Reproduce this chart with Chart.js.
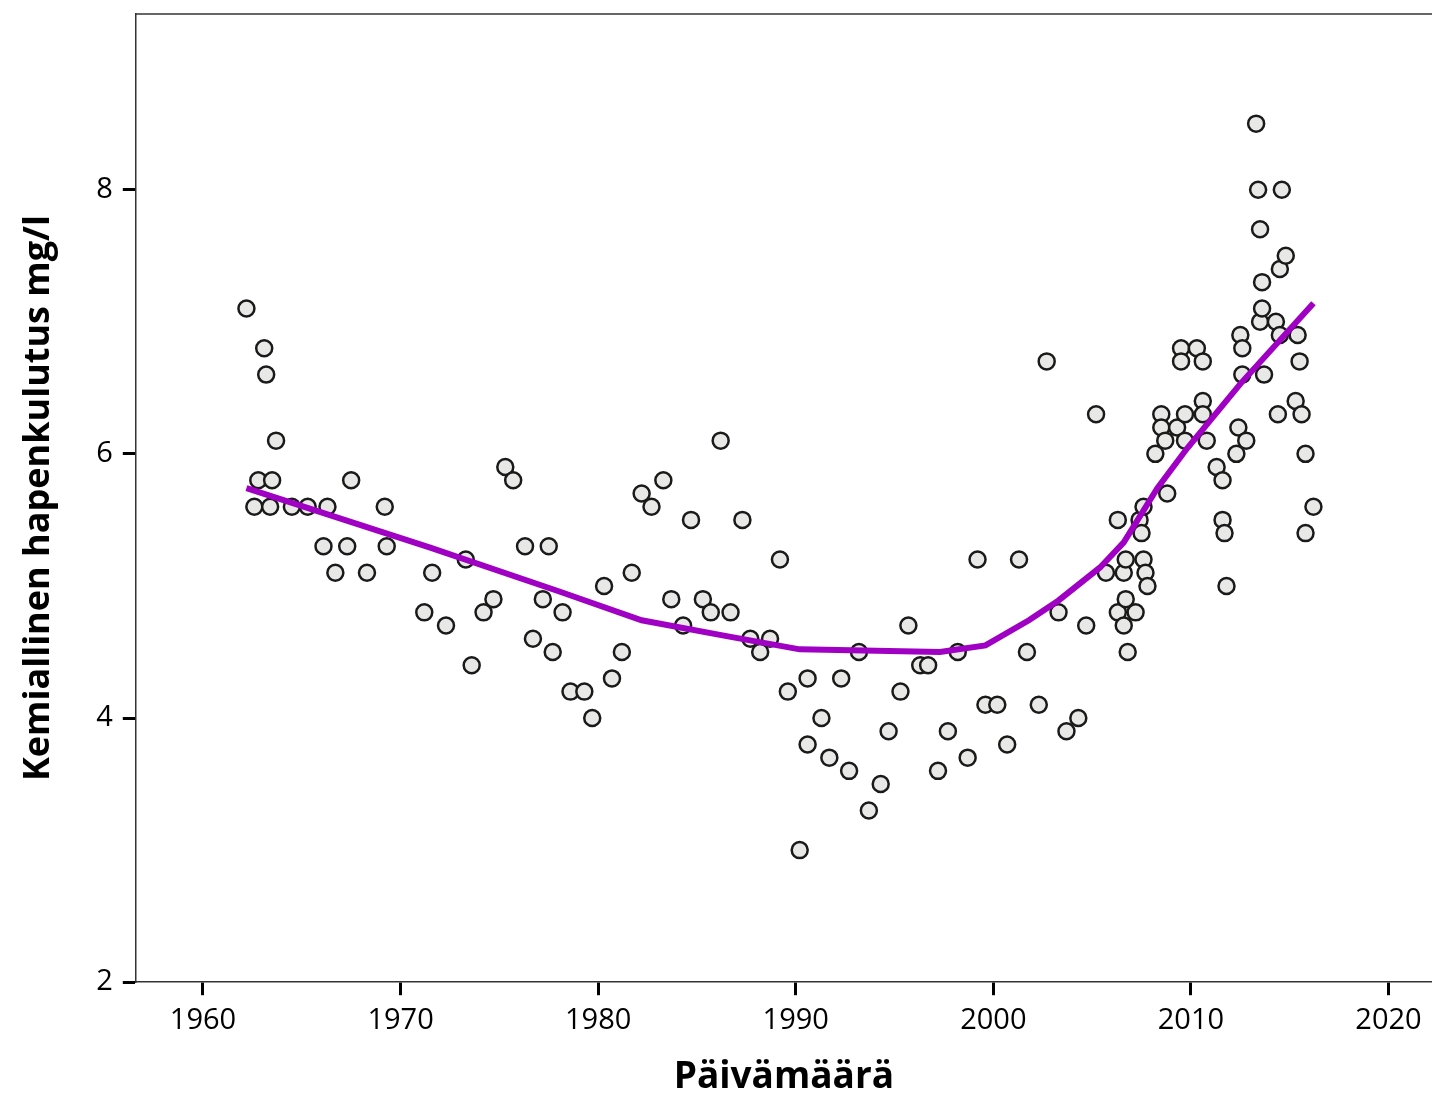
<!DOCTYPE html>
<html>
<head>
<meta charset="utf-8">
<script src="https://cdn.jsdelivr.net/npm/chart.js@4/dist/chart.umd.min.js"></script>
<style>
  html, body { margin: 0; padding: 0; background: #fff; }
  canvas { display: block; }
</style>
</head>
<body>
<canvas id="chart" width="1432" height="1096"></canvas>
<script>
// Observations: sampling date (decimal year) and COD value
const sampleYears = [
  1962.2, 1962.6, 1962.8, 1963.1, 1963.2, 1963.4, 1963.5, 1963.7, 1964.5, 1965.3,
  1966.1, 1966.3, 1966.7, 1967.3, 1967.5, 1968.3, 1969.2, 1969.3, 1971.2, 1971.6,
  1972.3, 1973.3, 1973.6, 1974.2, 1974.7, 1975.3, 1975.7, 1976.3, 1976.7, 1977.2,
  1977.5, 1977.7, 1978.2, 1978.6, 1979.3, 1979.7, 1980.3, 1980.7, 1981.2, 1981.7,
  1982.2, 1982.7, 1983.3, 1983.7, 1984.3, 1984.7, 1985.3, 1985.7, 1986.2, 1986.7,
  1987.3, 1987.7, 1988.2, 1988.7, 1989.2, 1989.6, 1990.2, 1990.6, 1990.6, 1991.3,
  1991.7, 1992.3, 1992.7, 1993.2, 1993.7, 1994.3, 1994.7, 1995.3, 1995.7, 1996.3,
  1996.7, 1997.2, 1997.7, 1998.2, 1998.7, 1999.2, 1999.6, 2000.2, 2000.7, 2001.3,
  2001.7, 2002.3, 2002.7, 2003.3, 2003.7, 2004.3, 2004.7, 2005.2, 2005.7, 2006.3,
  2006.3, 2006.6, 2006.7, 2006.7, 2006.6, 2006.8, 2007.2, 2007.4, 2007.5, 2007.6,
  2007.6, 2007.7, 2007.8, 2008.2, 2008.5, 2008.5, 2008.7, 2008.8, 2009.3, 2009.5,
  2009.5, 2009.7, 2009.7, 2010.3, 2010.6, 2010.6, 2010.6, 2010.8, 2011.3, 2011.6,
  2011.6, 2011.7, 2011.8, 2012.3, 2012.4, 2012.5, 2012.6, 2012.6, 2012.8, 2013.3,
  2013.4, 2013.5, 2013.5, 2013.6, 2013.6, 2013.7, 2014.3, 2014.4, 2014.5, 2014.5,
  2014.6, 2014.8, 2015.3, 2015.4, 2015.5, 2015.6, 2015.8, 2015.8, 2016.2
];
const sampleValues = [
  7.1, 5.6, 5.8, 6.8, 6.6, 5.6, 5.8, 6.1, 5.6, 5.6,
  5.3, 5.6, 5.1, 5.3, 5.8, 5.1, 5.6, 5.3, 4.8, 5.1,
  4.7, 5.2, 4.4, 4.8, 4.9, 5.9, 5.8, 5.3, 4.6, 4.9,
  5.3, 4.5, 4.8, 4.2, 4.2, 4.0, 5.0, 4.3, 4.5, 5.1,
  5.7, 5.6, 5.8, 4.9, 4.7, 5.5, 4.9, 4.8, 6.1, 4.8,
  5.5, 4.6, 4.5, 4.6, 5.2, 4.2, 3.0, 4.3, 3.8, 4.0,
  3.7, 4.3, 3.6, 4.5, 3.3, 3.5, 3.9, 4.2, 4.7, 4.4,
  4.4, 3.6, 3.9, 4.5, 3.7, 5.2, 4.1, 4.1, 3.8, 5.2,
  4.5, 4.1, 6.7, 4.8, 3.9, 4.0, 4.7, 6.3, 5.1, 5.5,
  4.8, 5.1, 5.2, 4.9, 4.7, 4.5, 4.8, 5.5, 5.4, 5.6,
  5.2, 5.1, 5.0, 6.0, 6.3, 6.2, 6.1, 5.7, 6.2, 6.8,
  6.7, 6.3, 6.1, 6.8, 6.7, 6.4, 6.3, 6.1, 5.9, 5.8,
  5.5, 5.4, 5.0, 6.0, 6.2, 6.9, 6.8, 6.6, 6.1, 8.5,
  8.0, 7.7, 7.0, 7.3, 7.1, 6.6, 7.0, 6.3, 7.4, 6.9,
  8.0, 7.5, 6.4, 6.9, 6.7, 6.3, 6.0, 5.4, 5.6
];

// Smoothed trend (loess)
const trendYears = [1962.2, 1971.5, 1978.0, 1982.2, 1986.5, 1990.2, 1997.3, 1999.6,
  2001.8, 2003.3, 2005.4, 2006.6, 2008.3, 2009.8, 2012.5, 2016.2];
const trendValues = [5.74, 5.29, 4.96, 4.74, 4.62, 4.52, 4.50, 4.55,
  4.74, 4.89, 5.14, 5.33, 5.74, 6.04, 6.53, 7.14];

const xTicks = [1960, 1970, 1980, 1990, 2000, 2010, 2020];
const yTicks = [2, 4, 6, 8];

const xTitle = "Päivämäärä";
const yTitle = "Kemiallinen hapenkulutus mg/l";

const points = sampleYears.map((x, i) => ({ x, y: sampleValues[i] }));
const trend = trendYears.map((x, i) => ({ x, y: trendValues[i] }));

// top frame line of the plot box
const frameTop = {
  id: "frameTop",
  beforeDatasetsDraw(chart) {
    const { ctx, chartArea } = chart;
    ctx.save();
    ctx.strokeStyle = "#333";
    ctx.lineWidth = 1.5;
    ctx.beginPath();
    ctx.moveTo(chartArea.left, chartArea.top);
    ctx.lineTo(chartArea.right, chartArea.top);
    ctx.stroke();
    ctx.restore();
  },
};

// drop the half-label paddings Chart.js adds around the axes
const noEdgePadding = (scale) => {
  scale.paddingTop = 0;
  scale.paddingBottom = 0;
  scale.paddingLeft = 0;
  scale.paddingRight = 0;
};

const tickFont = { family: "'Open Sans'", size: 29 };

new Chart(document.getElementById("chart").getContext("2d"), {
  type: "scatter",
  data: {
    datasets: [
      {
        type: "line",
        data: trend,
        borderColor: "#a000c4",
        borderWidth: 6,
        pointRadius: 0,
        tension: 0,
        fill: false,
        order: 0,
      },
      {
        type: "scatter",
        data: points,
        backgroundColor: "#e8e9e6",
        borderColor: "#1a1a1a",
        borderWidth: 2.5,
        pointRadius: 8,
        order: 1,
      },
    ],
  },
  options: {
    responsive: false,
    animation: false,
    layout: { autoPadding: false, padding: { top: 14, right: 0, left: 0, bottom: 0 } },
    plugins: { legend: { display: false }, tooltip: { enabled: false } },
    scales: {
      x: {
        type: "linear",
        min: 1956.6,
        max: 2022.2,
        afterBuildTicks: (axis) => { axis.ticks = xTicks.map(v => ({ value: v })); },
        afterFit: noEdgePadding,
        ticks: { font: tickFont, color: "#000", padding: 8, maxRotation: 0, callback: (v) => String(v) },
        grid: { drawOnChartArea: false, drawTicks: true, tickLength: 13, tickWidth: 3, tickColor: "#000" },
        border: { display: true, color: "#333", width: 1.5 },
        title: { display: true, text: xTitle, font: { family: "'Open Sans'", size: 37, weight: "bold", lineHeight: 1 },
                 color: "#000", padding: { top: 13, bottom: 0 } },
      },
      y: {
        type: "linear",
        min: 2,
        max: 9.33,
        afterBuildTicks: (axis) => { axis.ticks = yTicks.map(v => ({ value: v })); },
        afterFit: noEdgePadding,
        ticks: { font: tickFont, color: "#000", padding: 10, callback: (v) => String(v) },
        grid: { drawOnChartArea: false, drawTicks: true, tickLength: 13, tickWidth: 3, tickColor: "#000" },
        border: { display: true, color: "#333", width: 1.5 },
        title: { display: true, text: yTitle, font: { family: "'Open Sans'", size: 36, weight: "bold" },
                 color: "#000", padding: { top: 17, bottom: 26 } },
      },
    },
  },
  plugins: [frameTop],
});
</script>
</body>
</html>
